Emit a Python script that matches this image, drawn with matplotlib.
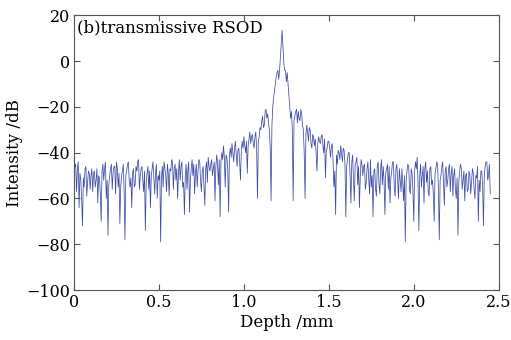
import numpy as np
import matplotlib
matplotlib.use("Agg")
import matplotlib.pyplot as plt

step_mm = 0.005
intensity_db = [
    -50, -46, -45, -57, -47, -44, -64, -49, -52, -60, -72, -51, -55, -47, -46, -59, -53, -48, -49, -56,
    -50, -47, -57, -49, -48, -55, -52, -47, -62, -50, -51, -58, -70, -48, -45, -52, -47, -44, -60, -52,
    -76, -54, -50, -47, -45, -56, -49, -46, -46, -58, -44, -47, -55, -49, -71, -55, -50, -48, -45, -57,
    -78, -50, -48, -45, -44, -52, -55, -51, -64, -49, -47, -55, -54, -46, -48, -44, -43, -56, -50, -47,
    -46, -52, -57, -48, -74, -53, -49, -46, -56, -48, -64, -50, -47, -44, -51, -58, -49, -45, -60, -50,
    -52, -48, -79, -51, -46, -55, -44, -47, -50, -57, -45, -49, -59, -47, -48, -43, -44, -56, -47, -45,
    -52, -47, -60, -49, -43, -52, -46, -44, -55, -53, -67, -50, -45, -56, -48, -44, -66, -52, -47, -43,
    -50, -45, -58, -49, -45, -55, -48, -43, -44, -52, -57, -48, -46, -54, -63, -47, -44, -53, -42, -46,
    -48, -45, -43, -50, -47, -44, -61, -46, -41, -45, -54, -43, -68, -44, -40, -43, -37, -42, -55, -41,
    -42, -47, -66, -41, -38, -42, -36, -40, -44, -38, -35, -41, -46, -39, -38, -44, -52, -39, -35, -38,
    -33, -37, -40, -35, -49, -37, -34, -31, -36, -33, -32, -36, -38, -33, -31, -38, -60, -35, -33, -29,
    -30, -26, -24, -29, -28, -22, -21, -25, -23, -27, -30, -38, -61, -28, -20, -16, -13, -10, -7, -5,
    -4, -8, -4, 2, 8, 13.5, 6, -1, -4, -4, -9, -5, -10, -15, -20, -25, -22, -30, -61, -26,
    -24, -22, -21, -27, -22, -25, -26, -21, -23, -28, -30, -40, -60, -32, -28, -31, -35, -29, -30, -36,
    -38, -32, -33, -37, -34, -40, -48, -36, -33, -35, -36, -33, -32, -37, -40, -34, -51, -39, -38, -35,
    -35, -38, -42, -37, -36, -44, -55, -48, -67, -41, -45, -39, -40, -43, -37, -40, -44, -38, -39, -45,
    -68, -46, -43, -40, -40, -50, -62, -44, -41, -52, -61, -45, -44, -42, -54, -46, -64, -50, -43, -45,
    -50, -46, -45, -56, -53, -47, -44, -52, -58, -43, -55, -50, -68, -48, -47, -56, -59, -46, -44, -53,
    -58, -47, -43, -54, -46, -52, -67, -49, -47, -45, -56, -46, -62, -51, -48, -44, -44, -55, -59, -47,
    -45, -52, -60, -47, -52, -57, -47, -53, -61, -50, -79, -52, -48, -45, -46, -56, -58, -47, -49, -57,
    -70, -48, -44, -47, -42, -53, -74, -50, -45, -55, -50, -46, -62, -47, -44, -53, -48, -57, -59, -47,
    -46, -54, -52, -58, -70, -49, -47, -44, -45, -56, -78, -52, -50, -46, -44, -53, -63, -48, -46, -55,
    -52, -47, -45, -57, -49, -46, -59, -50, -47, -56, -60, -51, -76, -53, -48, -45, -47, -56, -52, -48,
    -61, -50, -49, -57, -56, -48, -50, -58, -53, -47, -49, -56, -60, -50, -51, -46, -70, -52, -57, -48,
    -48, -54, -72, -50, -46, -44, -44, -52, -50, -45, -58,
]
depth_mm = np.arange(len(intensity_db)) * step_mm

x_ticks = [0, 0.5, 1.0, 1.5, 2.0, 2.5]
x_ticklabels = ["0", "0.5", "1.0", "1.5", "2.0", "2.5"]
y_ticks = [-100, -80, -60, -40, -20, 0, 20]
y_ticklabels = ["\u2212100", "\u221280", "\u221260", "\u221240", "\u221220", "0", "20"]

plt.rcParams['font.family'] = ['DejaVu Serif']
fig = plt.figure(figsize=(5.11, 3.40), dpi=100)
ax = fig.add_axes([0.1448, 0.147, 0.8312, 0.8077])
ax.plot(depth_mm, intensity_db, color='#3b4ba6', lw=0.55)
ax.set_xlim(0, 2.5)
ax.set_ylim(-100, 20)
ax.set_xticks(x_ticks)
ax.set_xticklabels(x_ticklabels)
ax.set_yticks(y_ticks)
ax.set_yticklabels(y_ticklabels)
ax.tick_params(direction='in', top=True, right=True, length=4, width=0.8,
               labelsize=11.5, color='#555555', pad=3)
for s in ax.spines.values():
    s.set_color('#555555')
    s.set_linewidth(0.8)
ax.set_xlabel("Depth /mm", fontsize=12, labelpad=2)
ax.set_ylabel("Intensity /dB", fontsize=12, labelpad=2)
ax.text(0.008, 0.985, "(b)transmissive RSOD", transform=ax.transAxes,
        ha='left', va='top', fontsize=12)
fig.savefig("out.png", dpi=100)
